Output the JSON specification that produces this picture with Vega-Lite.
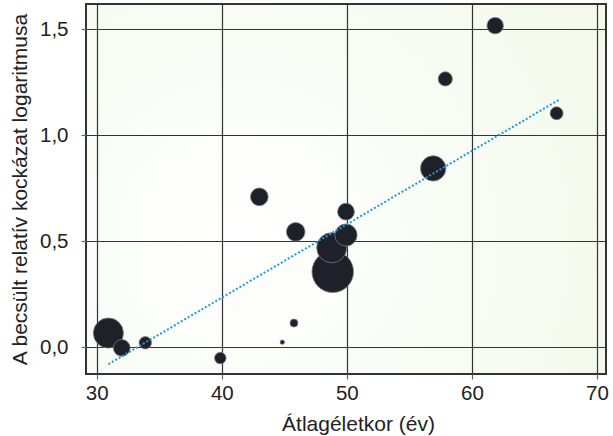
{
  "$schema": "https://vega.github.io/schema/vega-lite/v6.json",
  "autosize": {"type": "none"},
  "width": 520,
  "height": 370,
  "padding": {"left": 86, "top": 4, "right": 7, "bottom": 62},
  "background": "white",
  "config": {
    "view": {
      "stroke": "#333333",
      "strokeWidth": 2,
      "fill": {
        "gradient": "radial",
        "x1": 0.3, "y1": 0.6, "r1": 0,
        "x2": 0.3, "y2": 0.6, "r2": 1.0,
        "stops": [
          {"offset": 0, "color": "#ffffff"},
          {"offset": 1, "color": "#f0f7e6"}
        ]
      }
    },
    "font": "Liberation Sans",
    "axis": {
      "labelFont": "Liberation Sans",
      "titleFont": "Liberation Sans",
      "labelFontSize": 20.5,
      "titleFontSize": 21,
      "labelColor": "#222222",
      "titleColor": "#222222",
      "titleFontWeight": "normal",
      "domain": false,
      "gridColor": "#333333",
      "gridWidth": 1.2,
      "gridOpacity": 1,
      "tickColor": "#666666",
      "tickSize": 5,
      "tickWidth": 1.2
    }
  },
  "datasets": {
    "studies": [
      {"age": 48.87, "logrr": 0.357, "weight": 548},
      {"age": 30.93, "logrr": 0.068, "weight": 289},
      {"age": 48.79, "logrr": 0.47, "weight": 289},
      {"age": 56.9, "logrr": 0.844, "weight": 204},
      {"age": 49.93, "logrr": 0.53, "weight": 156},
      {"age": 45.91, "logrr": 0.545, "weight": 110},
      {"age": 32.0, "logrr": -0.002, "weight": 90},
      {"age": 43.0, "logrr": 0.71, "weight": 100},
      {"age": 49.93, "logrr": 0.64, "weight": 90},
      {"age": 61.86, "logrr": 1.517, "weight": 86},
      {"age": 57.87, "logrr": 1.266, "weight": 64},
      {"age": 66.77, "logrr": 1.104, "weight": 53},
      {"age": 33.88, "logrr": 0.022, "weight": 49},
      {"age": 39.88, "logrr": -0.05, "weight": 42},
      {"age": 45.77, "logrr": 0.115, "weight": 20},
      {"age": 44.84, "logrr": 0.025, "weight": 6}
    ],
    "fit": [
      {"age": 30.93, "logrr": -0.079},
      {"age": 66.95, "logrr": 1.167}
    ]
  },
  "layer": [
    {
      "data": {"name": "studies"},
      "mark": {"type": "circle", "fill": "#20202a", "opacity": 1, "stroke": "#7a7a7a", "strokeWidth": 0.8},
      "encoding": {
        "x": {
          "field": "age", "type": "quantitative",
          "scale": {"domain": [29.14, 70.72], "nice": false, "zero": false},
          "axis": {"values": [30, 40, 50, 60, 70], "title": "Átlagéletkor (év)", "labelPadding": 4, "titlePadding": 10, "titleX": 272, "grid": true}
        },
        "y": {
          "field": "logrr", "type": "quantitative",
          "scale": {"domain": [-0.125, 1.619], "nice": false, "zero": false},
          "axis": {"values": [0, 0.5, 1, 1.5], "title": "A becsült relatív kockázat logaritmusa", "labelExpr": "replace(format(datum.value, '.1f'), '.', ',')", "labelPadding": 13, "titlePadding": 9, "grid": true}
        },
        "size": {
          "field": "weight", "type": "quantitative",
          "scale": {"domain": [0, 548], "range": [0, 1720], "zero": true},
          "legend": null
        }
      }
    },
    {
      "data": {"name": "fit"},
      "mark": {"type": "line", "color": "#1a9be0", "strokeWidth": 2, "strokeDash": [2, 2]},
      "encoding": {
        "x": {"field": "age", "type": "quantitative"},
        "y": {"field": "logrr", "type": "quantitative"}
      }
    }
  ]
}
